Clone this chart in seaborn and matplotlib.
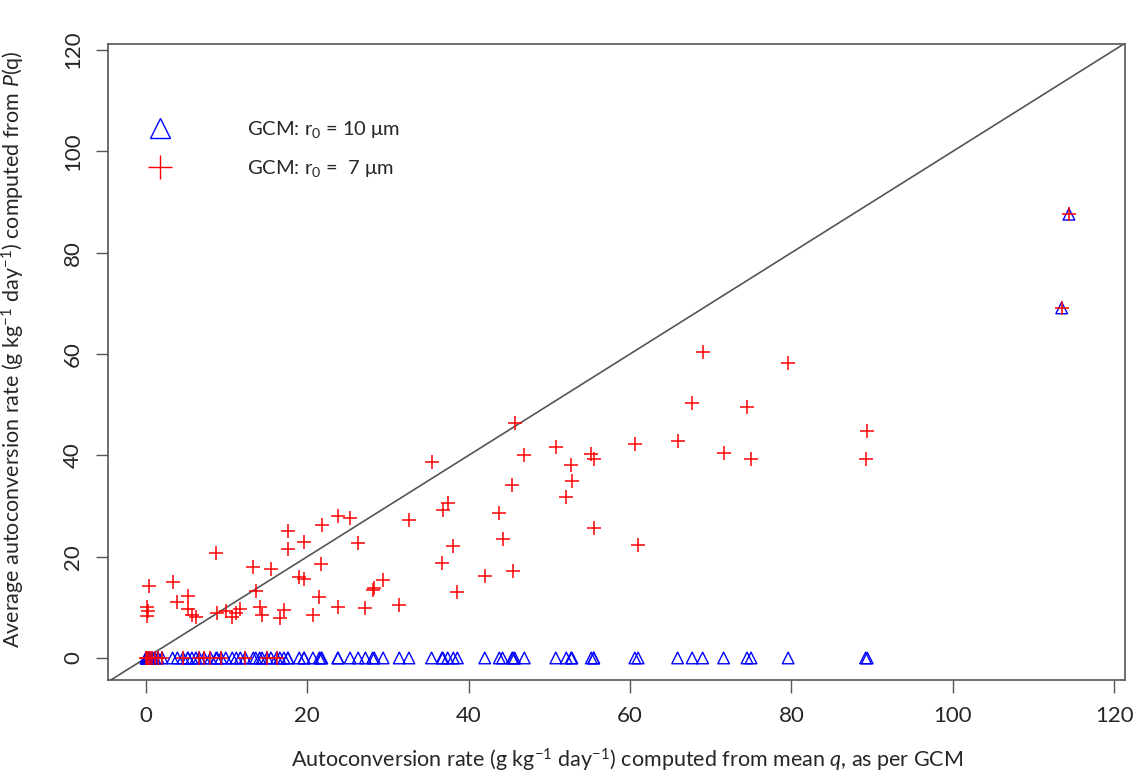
import numpy as np
import pandas as pd
import matplotlib
matplotlib.use("Agg")
import matplotlib.pyplot as plt
from matplotlib.lines import Line2D
import seaborn as sns

# autoconversion rate from mean q (GCM), shared by both r0 runs
gcmRate = [0.37, 0.08, 0.2, 0.08, 3.3, 3.9, 5.2, 5.2, 5.7, 6.2,
           8.7, 8.8, 9.9, 10.7, 11.2, 11.7, 13.3, 13.6, 14.1, 14.4,
           15.5, 16.6, 17.1, 17.6, 17.6, 19.0, 19.6, 19.6, 20.7, 21.5,
           21.7, 21.8, 23.8, 23.8, 25.3, 26.3, 27.2, 28.1, 28.3, 29.4,
           31.4, 32.6, 35.4, 36.7, 36.8, 37.4, 38.1, 38.6, 42.0, 43.8,
           44.2, 45.4, 45.5, 45.7, 46.9, 50.8, 52.7, 52.8, 52.1, 55.2,
           55.5, 55.5, 60.6, 61.0, 65.9, 69.0, 67.7, 71.6, 74.5, 75.0,
           79.6, 89.4, 89.2, 113.5, 114.4,
           0.0, 0.1, 0.15, 0.3, 0.5, 0.8, 1.1, 1.5, 2.0, 4.6,
           6.6, 7.2, 8.0, 9.3, 12.3, 15.0, 16.2]

# average autoconversion rate from P(q), r0 = 7 um
avgRate7 = [14.3, 10.0, 9.3, 8.2, 14.9, 11.0, 12.2, 9.6, 8.5, 8.0,
            20.8, 8.9, 9.3, 8.0, 8.8, 9.7, 18.0, 13.3, 10.1, 8.5,
            17.6, 7.8, 9.5, 25.1, 21.6, 16.0, 15.6, 22.8, 8.5, 12.1,
            18.6, 26.2, 10.1, 28.0, 27.6, 22.6, 9.8, 13.4, 13.9, 15.3,
            10.5, 27.2, 38.7, 18.7, 29.3, 30.5, 22.1, 13.0, 16.2, 28.7,
            23.5, 34.1, 17.2, 46.4, 40.1, 41.7, 38.1, 34.9, 31.7, 40.2,
            39.3, 25.6, 42.2, 22.3, 42.8, 60.4, 50.3, 40.4, 49.6, 39.3,
            58.3, 44.9, 39.3, 69.1, 87.6,
            0, 0, 0, 0, 0, 0, 0, 0, 0, 0,
            0, 0, 0, 0, 0, 0, 0]

# average autoconversion rate from P(q), r0 = 10 um
avgRate10 = [0.0] * 73 + [69.1, 87.6] + [0.0] * 17

df = pd.DataFrame({"gcm": gcmRate, "r7": avgRate7, "r10": avgRate10})

sns.set_style("white")
plt.rcParams["font.family"] = ["Lato", "DejaVu Sans"]
plt.rcParams["mathtext.fontset"] = "custom"
plt.rcParams["mathtext.rm"] = "Lato"
plt.rcParams["mathtext.it"] = "Lato:italic"
plt.rcParams["mathtext.default"] = "rm"

edgeGray = "#555555"

fig = plt.figure(figsize=(11.44, 7.78), dpi=100)
ax = fig.add_axes([108 / 1144, 98 / 778, 1017 / 1144, 636 / 778])

sns.scatterplot(data=df, x="gcm", y="r10", marker="^", s=70,
                facecolors="none", edgecolor="blue", linewidth=1.0, ax=ax)
sns.scatterplot(data=df, x="gcm", y="r7", marker="+", s=100,
                color="red", linewidth=1.1, ax=ax)

ax.set_xlim(-4.7, 121.35)
ax.set_ylim(-4.35, 121.2)
ax.plot([-10, 130], [-10, 130], color=edgeGray, lw=1.2, zorder=0)

ax.set_xticks(np.arange(0, 121, 20))
ax.set_yticks(np.arange(0, 121, 20))
ax.tick_params(axis="both", direction="out", length=9, width=1.0,
               color=edgeGray, labelsize=16, bottom=True, left=True)
ax.tick_params(axis="x", pad=10)
ax.tick_params(axis="y", pad=9)
for lbl in ax.get_yticklabels():
    lbl.set_rotation(90)
    lbl.set_va("center")
for sp in ax.spines.values():
    sp.set_color(edgeGray)
    sp.set_linewidth(1.2)

ax.set_xlabel(r"Autoconversion rate (g kg$^{-1}$ day$^{-1}$) computed from mean $\mathit{q}$, as per GCM",
              fontsize=15.5)
ax.set_ylabel(r"Average autoconversion rate (g kg$^{-1}$ day$^{-1}$) computed from $\mathit{P}$(q)",
              fontsize=15.5)
ax.xaxis.set_label_coords(0.51, -0.105)
ax.yaxis.set_label_coords(-0.08, 0.52)

handles = [Line2D([], [], ls="none", marker="^", ms=15, mfc="none", mec="blue", mew=1.0),
           Line2D([], [], ls="none", marker="+", ms=17, color="red", mew=1.0)]
ax.legend(handles, ["GCM: r$_0$ = 10 \u03bcm", "GCM: r$_0$ =  7 \u03bcm"],
          loc="upper left", bbox_to_anchor=(0.018, 0.91), frameon=False,
          fontsize=14.5, handlelength=1.5, handletextpad=3.6, labelspacing=0.9)

fig.savefig("out.png", dpi=100)
